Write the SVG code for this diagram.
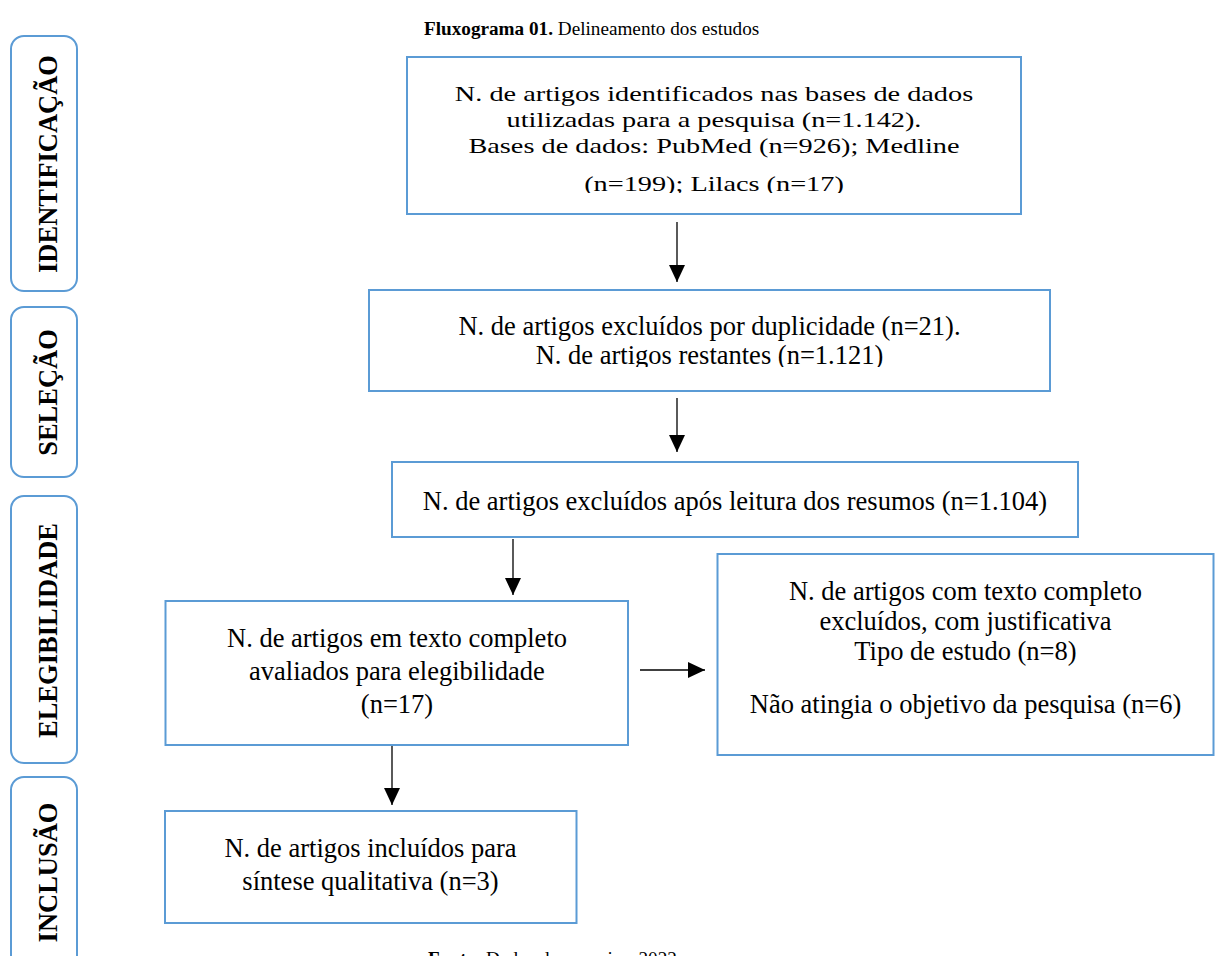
<svg xmlns="http://www.w3.org/2000/svg" width="1215" height="956" viewBox="0 0 1215 956">
<style>
.box{fill:#fff;stroke:#5B9BD5;stroke-width:2}
.lab{fill:#fff;stroke:#5B9BD5;stroke-width:2}
.t{font-family:"Liberation Serif","Times New Roman",serif;font-size:26.5px;fill:#000;text-anchor:middle}
.t1{font-family:"Liberation Serif","Times New Roman",serif;font-size:28.3px;fill:#000;text-anchor:middle}
.lt{font-family:"Liberation Serif","Times New Roman",serif;font-size:26.5px;font-weight:bold;fill:#000;text-anchor:middle}
.cap{font-family:"Liberation Serif","Times New Roman",serif;font-size:19.2px;fill:#000}
.con{stroke:#000;stroke-width:1.3;fill:none;marker-end:url(#ah)}
</style>
<defs>
<marker id="ah" markerUnits="userSpaceOnUse" markerWidth="17" markerHeight="16" refX="17" refY="8" orient="auto">
<path d="M0,0 L17,8 L0,16 z" fill="#000"/>
</marker>
<clipPath id="c1"><rect x="408" y="58" width="612" height="135"/></clipPath>
<clipPath id="c2"><rect x="370" y="291" width="679" height="76"/></clipPath>
</defs>
<rect width="1215" height="956" fill="#fff"/>

<text class="cap" x="424" y="35"><tspan font-weight="bold">Fluxograma 01.</tspan> Delineamento dos estudos</text>

<g id="lab-identificacao">
<rect class="lab" x="11" y="36" width="66" height="255" rx="13"/>
<text class="lt" transform="translate(57,164) rotate(-90)">IDENTIFICAÇÃO</text>
</g>
<g id="lab-selecao">
<rect class="lab" x="11" y="307" width="66" height="170" rx="13"/>
<text class="lt" transform="translate(57,392.5) rotate(-90)">SELEÇÃO</text>
</g>
<g id="lab-elegibilidade">
<rect class="lab" x="11" y="496" width="66" height="267" rx="13"/>
<text class="lt" transform="translate(57,630.5) rotate(-90)">ELEGIBILIDADE</text>
</g>
<g id="lab-inclusao">
<rect class="lab" x="11" y="777" width="66" height="220" rx="13"/>
<text class="lt" transform="translate(57,872.5) rotate(-90)">INCLUSÃO</text>
</g>

<g id="n1">
<rect class="box" x="407" y="57" width="614" height="157"/>
<g clip-path="url(#c1)">
<text class="t1" transform="translate(714,101) scale(1,0.74)">N. de artigos identificados nas bases de dados</text>
<text class="t1" transform="translate(714,127) scale(1,0.74)">utilizadas para a pesquisa (n=1.142).</text>
<text class="t1" transform="translate(714,153) scale(1,0.74)">Bases de dados: PubMed (n=926); Medline</text>
<text class="t1" transform="translate(714,191) scale(1,0.74)">(n=199); Lilacs (n=17)</text>
</g>
</g>

<g id="n2">
<rect class="box" x="369" y="290" width="681" height="101"/>
<g clip-path="url(#c2)">
<text class="t" x="709.5" y="335">N. de artigos excluídos por duplicidade (n=21).</text>
<text class="t" x="709.5" y="364">N. de artigos restantes (n=1.121)</text>
</g>
</g>

<g id="n3">
<rect class="box" x="392" y="462" width="686" height="75"/>
<text class="t" x="735" y="510">N. de artigos excluídos após leitura dos resumos (n=1.104)</text>
</g>

<g id="n4">
<rect class="box" x="165.5" y="601" width="462.5" height="144"/>
<text class="t" x="397" y="647">N. de artigos em texto completo</text>
<text class="t" x="397" y="680">avaliados para elegibilidade</text>
<text class="t" x="397" y="713">(n=17)</text>
</g>

<g id="n5">
<rect class="box" x="717.5" y="554" width="496" height="201"/>
<text class="t" x="965.5" y="600">N. de artigos com texto completo</text>
<text class="t" x="965.5" y="630">excluídos, com justificativa</text>
<text class="t" x="965.5" y="660">Tipo de estudo (n=8)</text>
<text class="t" x="965.5" y="713">Não atingia o objetivo da pesquisa (n=6)</text>
</g>

<g id="n6">
<rect class="box" x="165" y="811" width="411.5" height="112"/>
<text class="t" x="370.5" y="857">N. de artigos incluídos para</text>
<text class="t" x="370.5" y="890">síntese qualitativa (n=3)</text>
</g>

<g id="connectors">
<line class="con" x1="677" y1="222" x2="677" y2="282"/>
<line class="con" x1="677" y1="398" x2="677" y2="452"/>
<line class="con" x1="513" y1="539" x2="513" y2="595"/>
<line class="con" x1="640" y1="670" x2="705" y2="670"/>
<line class="con" x1="392" y1="746" x2="392" y2="805"/>
</g>

<text class="cap" x="428" y="965"><tspan font-weight="bold">Fonte:</tspan> Dados da pesquisa, 2022</text>
</svg>
